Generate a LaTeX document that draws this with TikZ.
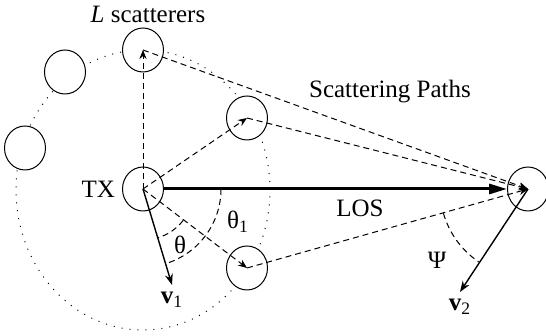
\documentclass[tikz,border=0pt]{standalone}
\usepackage{fontspec}
\setmainfont{Liberation Serif}
\usetikzlibrary{arrows.meta, positioning, calc, shapes.geometric}

\begin{document}
\begin{tikzpicture}[x=0.5pt, y=0.5pt, >=Stealth, font=\fontsize{12.5}{14}\selectfont,
  scat/.style={ellipse, draw, line width=0.5pt, fill=white, minimum width=20.5pt, minimum height=22pt, inner sep=0pt},
  sctpath/.style={line width=0.5pt, dash pattern=on 3pt off 2pt, -{Stealth[length=4.5pt,width=3.6pt]}},
  anglearc/.style={line width=0.5pt, dash pattern=on 3pt off 2pt},
  vel/.style={line width=0.7pt, -{Stealth[length=5.5pt,width=4pt]}}]
  \useasboundingbox (0,0) rectangle (546,336);
  \draw[line width=0.5pt, dash pattern=on 0.5pt off 3.5pt] (143,146) ellipse [x radius=127, y radius=140];

  \node[scat] (tx) at (143,147) {};
  \node[scat] (s1) at (143,286) {};
  \node[scat] (s2) at (247,218) {};
  \node[scat] (s3) at (247,68) {};
  \node[scat] (s4) at (65,264) {};
  \node[scat] (s5) at (25,188) {};
  \node[scat] (rx) at (528,147) {};
  \coordinate (v1end) at (172,51);
  \coordinate (v2end) at (460,44);

  \node[left=0pt of tx] (txlbl) {TX};
  \node (scatlbl) at (148,322) {\textit{L} scatterers};
  \node (pathlbl) at (390,244) {Scattering Paths};
  \node (loslbl) at (360,128) {LOS};

  \draw[sctpath] (tx.center) -- (s1.center);
  \draw[sctpath] (tx.center) -- (s2.center);
  \draw[sctpath] (tx.center) -- (s3.center);
  \draw[sctpath] (s1.center) -- (rx.center);
  \draw[sctpath] (s2.center) -- (rx.center);
  \draw[sctpath] (s3.center) -- (rx.center);
  \draw[line width=1.5pt, -{Triangle[length=9pt,width=5pt]}] (tx) -- (rx);

  \draw[vel] (tx.center) -- (v1end);
  \draw[vel] (rx.center) -- (v2end);
  \node[below=0pt of v1end] (v1lbl) {\textbf{v}\textsubscript{1}};
  \node[below=0pt of v2end] (v2lbl) {\textbf{v}\textsubscript{2}};

  \draw[anglearc] ($(tx.center)+(78,0)$) arc[start angle=0, end angle=-73, radius=78];
  \draw[anglearc] ($(tx.center)+(-38:51)$) arc[start angle=-38, end angle=-73, radius=51];
  \draw[anglearc] ($(rx.center)+(196:88)$) arc[start angle=196, end angle=236, radius=88];
  \node (th1lbl) at (238,114) {θ\textsubscript{1}};
  \node (thlbl) at (180,91) {θ};
  \node (psilbl) at (437,76) {Ψ};
\end{tikzpicture}
\end{document}
